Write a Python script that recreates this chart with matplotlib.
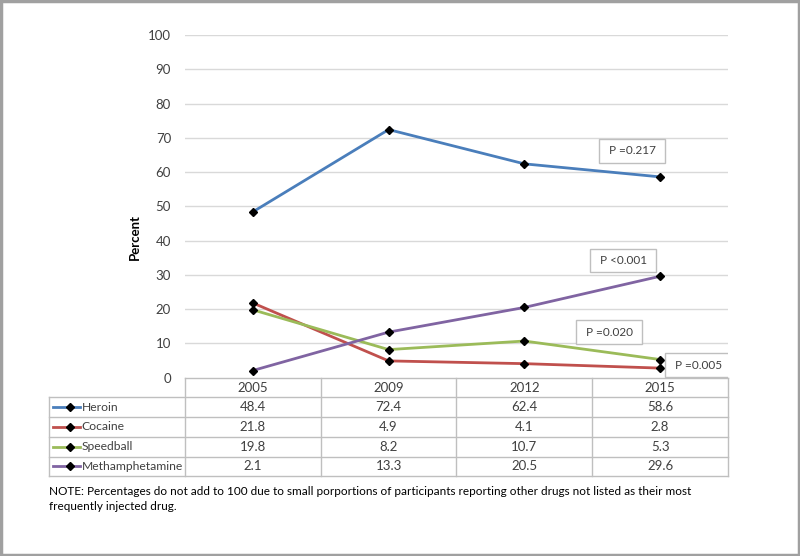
import matplotlib.pyplot as plt
from matplotlib.patches import Rectangle
from matplotlib.transforms import blended_transform_factory

plt.rcParams['font.family'] = ['Lato', 'DejaVu Sans']

# data
years = ['2005', '2009', '2012', '2015']
drugs = ['Heroin', 'Cocaine', 'Speedball', 'Methamphetamine']
heroin = [48.4, 72.4, 62.4, 58.6]
cocaine = [21.8, 4.9, 4.1, 2.8]
speedball = [19.8, 8.2, 10.7, 5.3]
meth = [2.1, 13.3, 20.5, 29.6]
colors = ['#4A7EBB', '#C0504D', '#9BBB59', '#8064A2']
p_labels = ['P =0.217', 'P <0.001', 'P =0.020', 'P =0.005']
p_pos = [(2.794, 66.2), (2.728, 34.2), (2.625, 13.2), (3.28, 3.7)]

series = [heroin, cocaine, speedball, meth]
x = list(range(len(years)))
txt_c = '#404040'

fig = plt.figure(figsize=(8, 5.56), dpi=100)
ax = fig.add_axes([185/800, 1 - 377.7/556, 543/800, 342.7/556])

grid_c = '#D9D9D9'
for v in range(10, 101, 10):
    ax.axhline(v, color=grid_c, lw=1, zorder=0)

for vals, c in zip(series, colors):
    ax.plot(x, vals, color=c, lw=2, marker='D', ms=4,
            mfc='black', mec='black', zorder=3)

ax.set_xlim(-0.5, 3.5)
ax.set_ylim(0, 100)
ax.set_yticks(range(0, 101, 10))
ax.tick_params(axis='y', length=0, pad=10, labelsize=9.5, labelcolor=txt_c)
ax.set_xticks([])
for s in ax.spines.values():
    s.set_visible(False)
ax.set_ylabel('Percent', fontsize=9.5, fontweight='bold')
ax.yaxis.set_label_coords(-0.081, 0.41)

# p-value boxes
for lab, (px, py) in zip(p_labels, p_pos):
    ax.add_patch(Rectangle((px - 0.243, py - 3.5), 0.486, 7.0, fc='white',
                           ec='#BFBFBF', lw=1, zorder=4))
    ax.text(px, py, lab, ha='center', va='center', fontsize=8.5,
            color=txt_c, zorder=5)

# data table below the axes
tr = blended_transform_factory(ax.transData, ax.transAxes)
row_h = 19.7 / 342.7
tc = '#BFBFBF'
n = len(drugs)
bottom = -row_h * (n + 1)
# horizontal lines
ax.plot([-0.5, 3.5], [0, 0], color=tc, lw=1, transform=tr, clip_on=False)
for i in range(1, n + 2):
    ax.plot([-1.5, 3.5], [-row_h * i] * 2, color=tc, lw=1,
            transform=tr, clip_on=False)
# vertical lines
ax.plot([-1.5, -1.5], [-row_h, bottom], color=tc, lw=1, transform=tr, clip_on=False)
for k in range(len(years) + 1):
    ax.plot([k - 0.5, k - 0.5], [0, bottom], color=tc, lw=1,
            transform=tr, clip_on=False)
# header
for k, yr in enumerate(years):
    ax.text(k, -row_h * 0.5, yr, ha='center', va='center', fontsize=9.5,
            color=txt_c, transform=tr)
# rows
for i, (name, vals, c) in enumerate(zip(drugs, series, colors)):
    yc = -row_h * (i + 1.5)
    ax.plot([-1.475, -1.27], [yc, yc], color=c, lw=2, transform=tr, clip_on=False)
    ax.plot([-1.35], [yc], marker='D', ms=4, color='black',
            transform=tr, clip_on=False)
    ax.text(-1.26, yc, name, ha='left', va='center', fontsize=8.7,
            color=txt_c, transform=tr)
    for k, v in enumerate(vals):
        ax.text(k, yc, f'{v:.1f}', ha='center', va='center', fontsize=9.5,
                color=txt_c, transform=tr)

fig.text(49/800, 1 - 499/556,
         'NOTE: Percentages do not add to 100 due to small porportions of participants '
         'reporting other drugs not listed as their most\nfrequently injected drug.',
         ha='left', va='center', fontsize=8.5, linespacing=1.36, color='black')

# outer frame
fig.patches.append(Rectangle((0.001, 0.001), 0.998, 0.997, transform=fig.transFigure,
                             fill=False, ec='#A0A0A0', lw=2.5))

fig.savefig('out.png', dpi=100)
